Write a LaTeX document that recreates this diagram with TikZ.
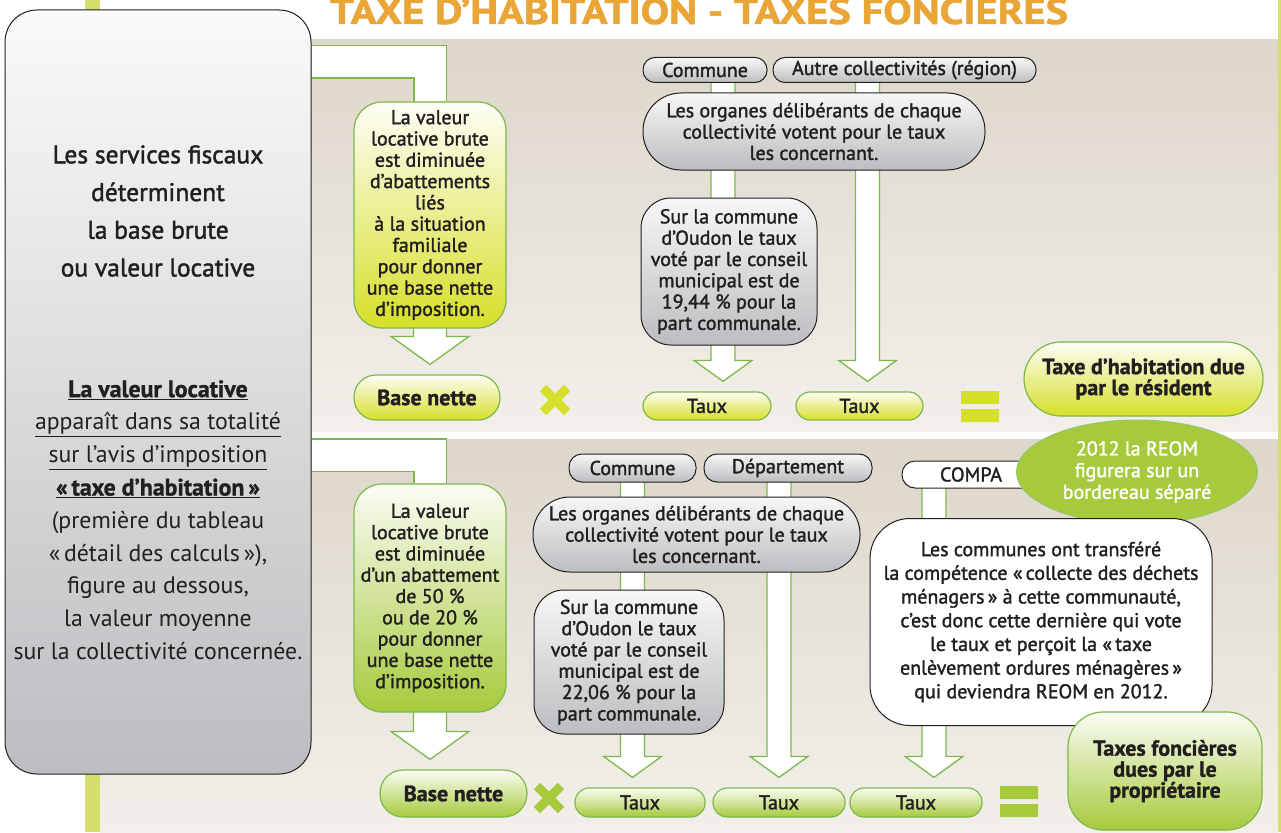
\documentclass[tikz,border=0pt]{standalone}
\usepackage{fontspec}
\setmainfont{PT Sans}[BoldFeatures={FakeBold=1.2}]
\newfontfamily\moyen[FakeBold=1.6]{PT Sans}
\usepackage{graphicx}
\usepackage{xcolor}
\usetikzlibrary{calc,positioning,shapes.geometric}

\definecolor{beigehaut}{HTML}{DDD6CA}
\definecolor{beigebas}{HTML}{F2EFEA}
\definecolor{jaunevert}{HTML}{D6DF29}
\definecolor{vertpomme}{HTML}{A6CA3C}
\definecolor{bordvert}{HTML}{7DB84A}
\definecolor{grisbas}{HTML}{BCBDC0}
\definecolor{texte}{HTML}{231F20}
\definecolor{titreorange}{HTML}{E9A535}
\definecolor{barre}{HTML}{D5E06C}

\pgfdeclarelayer{fond}
\pgfdeclarelayer{tuyaux}
\pgfsetlayers{fond,tuyaux,main}

% fleche creuse : demi tuyau, demi pointe, longueur pointe, depart, arrivee
\newcommand{\fleche}[5]{%
  \draw[tuyau] let \p1=(#4), \p2=(#5) in
    (\x1-#1pt,\y1+2pt) -- (\x1-#1pt,\y2+#3pt+10pt) -- (\x1-#2pt,\y2+#3pt+10pt)
    -- (\x1,\y2+10pt) -- (\x1+#2pt,\y2+#3pt+10pt) -- (\x1+#1pt,\y2+#3pt+10pt)
    -- (\x1+#1pt,\y1+2pt);}

\begin{document}
\begin{tikzpicture}[x=1pt, y=-1pt,
  corps/.style={font=\moyen\fontsize{20}{21.3}\selectfont, text=texte, align=center, inner sep=0pt},
  jaune/.style={corps, draw=bordvert, line width=1.2pt, top color=jaunevert!4, bottom color=jaunevert},
  vert/.style={corps, draw=bordvert, line width=1.2pt, top color=vertpomme!5, bottom color=vertpomme},
  gris/.style={corps, draw=texte, line width=1pt, top color=white!97!black, bottom color=grisbas},
  blanc/.style={corps, draw=texte, line width=1pt, fill=white},
  gras/.style={font=\bfseries\fontsize{22}{21}\selectfont},
  tuyau/.style={draw=bordvert, line width=1.3pt, fill=white, line join=miter},
  bande/.style={draw=bordvert, line width=1.3pt, double=white, double distance=31pt, line join=miter},
  croix/.style={line width=9pt}]
\useasboundingbox (0,0) rectangle (1281,832);

% fonds
\begin{pgfonlayer}{fond}
\fill[white] (0,0) rectangle (1281,832);
\fill[barre] (85,0) rectangle (100,832);
\shade[top color=beigehaut, bottom color=beigebas] (100,40) rectangle (1278,431);
\shade[top color=beigehaut, bottom color=beigebas] (100,439) rectangle (1278,832);
\fill[barre] (1278,0) rectangle (1281,832);
\end{pgfonlayer}

% titre
\node[anchor=base, text=titreorange, font=\bfseries, inner sep=0pt] (titre) at (699,24)
  {\resizebox{738pt}{26pt}{TAXE D’HABITATION - TAXES FONCIERES}};

% colonne de gauche
\node[draw=texte, line width=1pt, rounded corners=32pt, top color=white!98!black, bottom color=grisbas,
  minimum width=306pt, minimum height=764pt] (gauche) at (158,392) {};
\node[corps, font=\moyen\fontsize{25.5}{37.7}\selectfont] (services) at (158,211)
  {Les services fiscaux\\ déterminent\\ la base brute\\ ou valeur locative};
\node[corps, font=\fontsize{23.8}{32.8}\selectfont] (valeur) at (158,520)
  {\textbf{\underline{La valeur locative}}\\ \underline{apparaît dans sa totalité}\\
   \underline{sur l’avis d’imposition}\\ \textbf{\underline{«\,taxe d’habitation\,»}}\\
   (première du tableau\\ «\,détail des calculs\,»),\\ figure au dessous,\\
   la valeur moyenne\\ sur la collectivité concernée.};

% taxe d'habitation
\node[jaune, rounded corners=28pt, minimum width=152pt, minimum height=226pt] (vert1) at (430,215)
  {La valeur\\ locative brute\\ est diminuée\\ d’abattements\\ liés\\ à la situation\\ familiale\\ pour donner\\ une base nette\\ d’imposition.};
\node[jaune, gras, rounded corners=22pt, minimum width=146pt, minimum height=45pt] (base1) at (427,397.5) {Base nette};
\node[gris, rounded corners=12pt, minimum width=124pt, minimum height=25pt] (commune1) at (705,70) {Commune};
\node[gris, rounded corners=12pt, minimum width=263pt, minimum height=25pt] (autre1) at (904.5,70) {Autre collectivités (région)};
\node[gris, rounded corners=38pt, minimum width=342pt, minimum height=77pt] (organes1) at (814,131.5)
  {Les organes délibérants de chaque\\ collectivité votent pour le taux\\ les concernant.};
\node[gris, rounded corners=30pt, minimum width=176pt, minimum height=147pt] (sur1) at (729,271.5)
  {Sur la commune\\ d’Oudon le taux\\ voté par le conseil\\ municipal est de\\ 19,44~\% pour la\\ part communale.};
\node[jaune, rounded corners=14pt, minimum width=128pt, minimum height=28pt] (taux1) at (707,406) {Taux};
\node[jaune, rounded corners=14pt, minimum width=127pt, minimum height=28pt] (taux2) at (859.5,406) {Taux};
\node[jaune, gras, rounded corners=37pt, minimum width=239pt, minimum height=74pt] (totalh) at (1143.5,379)
  {Taxe d’habitation due\\ par le résident};
\coordinate (croix1) at (555,400);
\coordinate (egal1) at (980,406.5);
\draw[croix, jaunevert] ($(croix1)+(-12,-12)$) -- ($(croix1)+(12,12)$) ($(croix1)+(-12,12)$) -- ($(croix1)+(12,-12)$);
\fill[jaunevert] ($(egal1)+(-19,-15.5)$) rectangle ($(egal1)+(19,-2.5)$) ($(egal1)+(-19,2.5)$) rectangle ($(egal1)+(19,15.5)$);

% taxes foncieres
\node[vert, rounded corners=28pt, minimum width=152pt, minimum height=228pt] (vert2) at (430,598)
  {La valeur\\ locative brute\\ est diminuée\\ d’un abattement\\ de 50~\%\\ ou de 20~\%\\ pour donner\\ une base nette\\ d’imposition.};
\node[vert, gras, rounded corners=23pt, minimum width=147pt, minimum height=47pt] (base2) at (453.5,793.5) {Base nette};
\node[gris, rounded corners=13pt, minimum width=127pt, minimum height=28pt] (commune2) at (632.5,468) {Commune};
\node[gris, rounded corners=13pt, minimum width=168pt, minimum height=28pt] (dept2) at (788,468) {Département};
\node[gris, rounded corners=37pt, minimum width=327pt, minimum height=75pt] (organes2) at (696.5,534.5)
  {Les organes délibérants de chaque\\ collectivité votent pour le taux\\ les concernant.};
\node[gris, rounded corners=30pt, minimum width=190pt, minimum height=144pt] (sur2) at (629,662)
  {Sur la commune\\ d’Oudon le taux\\ voté par le conseil\\ municipal est de\\ 22,06~\% pour la\\ part communale.};
\node[vert, rounded corners=14pt, minimum width=130pt, minimum height=29pt] (taux3) at (640,802.5) {Taux};
\node[vert, rounded corners=14pt, minimum width=132pt, minimum height=29pt] (taux4) at (779,802.5) {Taux};
\node[vert, rounded corners=14pt, minimum width=132pt, minimum height=29pt] (taux5) at (916,802.5) {Taux};
\node[blanc, rounded corners=13pt, minimum width=138pt, minimum height=27pt] (compa) at (971,474.5) {COMPA};
\node[ellipse, corps, fill=vertpomme, draw=bordvert!80, line width=1pt, text=white,
  font=\moyen\fontsize{20}{21.7}\selectfont, minimum width=241pt, minimum height=104pt] (reom) at (1137,472)
  {2012 la REOM\\ figurera sur un\\ bordereau séparé};
\node[blanc, rounded corners=40pt, minimum width=342pt, minimum height=207pt, font=\moyen\fontsize{20}{23.7}\selectfont] (communes) at (1041,622)
  {Les communes ont transféré\\ la compétence «\,collecte des déchets\\ ménagers\,» à cette communauté,\\ c’est donc cette dernière qui vote\\ le taux et perçoit la «\,taxe\\ enlèvement ordures ménagères\,»\\ qui deviendra REOM en 2012.};
\node[vert, gras, rounded corners=35pt, minimum width=194pt, minimum height=118pt] (foncieres) at (1165,771)
  {Taxes foncières\\ dues par le\\ propriétaire};
\coordinate (croix2) at (549,798);
\coordinate (egal2) at (1019,801.5);
\draw[croix, vertpomme] ($(croix2)+(-12,-12)$) -- ($(croix2)+(12,12)$) ($(croix2)+(-12,12)$) -- ($(croix2)+(12,-12)$);
\fill[vertpomme] ($(egal2)+(-19,-15.5)$) rectangle ($(egal2)+(19,-2.5)$) ($(egal2)+(-19,2.5)$) rectangle ($(egal2)+(19,15.5)$);

% tuyaux
\begin{pgfonlayer}{tuyaux}
\draw[bande] (gauche.east |- 0,62) -| (vert1.north);
\fleche{16.5}{39}{28}{vert1.south}{base1.north}
\fleche{12}{29}{21}{$(commune1.south)+(18,0)$}{taux1.north}
\fleche{12}{29}{21}{$(autre1.south west)+(95,0)$}{taux2.north}
\draw[bande] (gauche.east |- 0,455) -| (vert2.north);
\fleche{16.5}{39}{28}{vert2.south}{base2.north}
\fleche{12}{29}{21}{commune2.south}{taux3.north}
\fleche{12}{29}{21}{taux4.north |- dept2.south}{taux4.north}
\fleche{12}{29}{21}{$(compa.south west)+(32.5,0)$}{taux5.north}
\end{pgfonlayer}
\end{tikzpicture}
\end{document}
